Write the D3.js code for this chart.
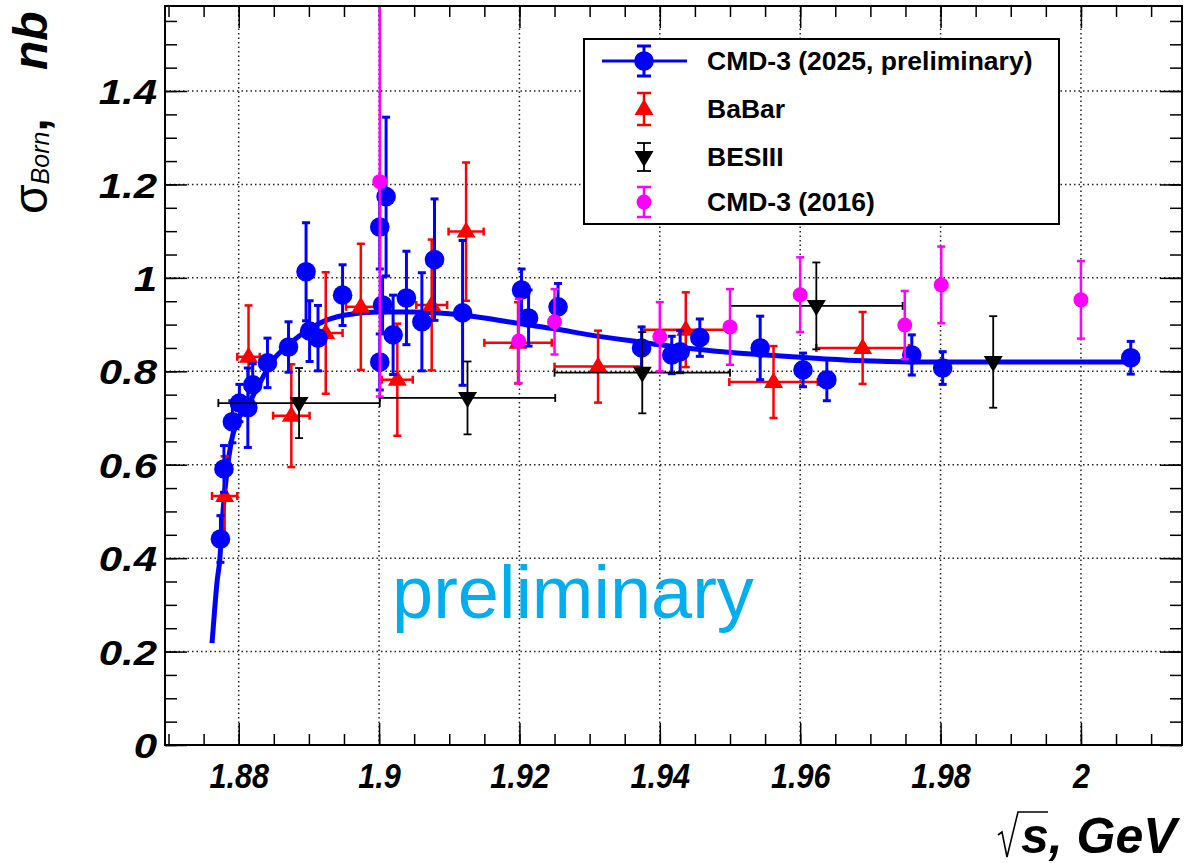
<!DOCTYPE html>
<html>
<head>
<meta charset="utf-8">
<script src="https://cdn.jsdelivr.net/npm/d3@7"></script>
<style>
  body { margin: 0; background: #fff; }
  text { font-family: "Liberation Sans", Arial, sans-serif; }
</style>
</head>
<body>
<svg id="chart" width="1188" height="863"></svg>
<script>
// CMD-3 (2025, preliminary)
const cmd25X = [1.8774, 1.8779, 1.8791, 1.8801, 1.8813, 1.8820, 1.8841, 1.8871, 1.8896, 1.8901, 1.8913,
  1.8948, 1.9001, 1.9001, 1.9010, 1.9005, 1.9020, 1.9039, 1.9061, 1.9079, 1.9119, 1.9203, 1.9213,
  1.9255, 1.9374, 1.9417, 1.9429, 1.9457, 1.9543, 1.9604, 1.9638, 1.9759, 1.9803, 2.0071];
const cmd25Y = [0.441, 0.591, 0.692, 0.732, 0.722, 0.771, 0.818, 0.852, 1.013, 0.886, 0.871,
  0.963, 0.820, 1.109, 1.174, 0.942, 0.878, 0.957, 0.906, 1.039, 0.925, 0.974, 0.914,
  0.938, 0.850, 0.835, 0.842, 0.872, 0.850, 0.803, 0.782, 0.835, 0.807, 0.829];
const cmd25Err = [0.05, 0.05, 0.045, 0.04, 0.085, 0.045, 0.053, 0.054, 0.105, 0.065, 0.07,
  0.065, 0.06, 0.09, 0.17, 0.06, 0.085, 0.10, 0.105, 0.13, 0.155, 0.045, 0.06,
  0.05, 0.045, 0.04, 0.045, 0.04, 0.068, 0.036, 0.045, 0.043, 0.035, 0.035];

// fit curve through CMD-3 (2025)
const fitX = [1.8762, 1.8766, 1.8769, 1.8773, 1.8777, 1.8783, 1.8790, 1.8797, 1.8811, 1.8830, 1.8848,
  1.8872, 1.8890, 1.8914, 1.8950, 1.9000, 1.9050, 1.9100, 1.9150, 1.9200, 1.9250, 1.9300, 1.9370,
  1.9425, 1.9480, 1.9540, 1.9600, 1.9680, 1.9760, 1.9900, 2.0080];
const fitY = [0.218, 0.295, 0.347, 0.396, 0.488, 0.582, 0.653, 0.690, 0.722, 0.775, 0.822,
  0.858, 0.880, 0.902, 0.920, 0.927, 0.927, 0.923, 0.914, 0.902, 0.891, 0.878, 0.863,
  0.852, 0.843, 0.836, 0.830, 0.823, 0.820, 0.820, 0.820];

// BaBar
const babarX = [1.8780, 1.8814, 1.8875, 1.8924, 1.8974, 1.9026, 1.9075, 1.9124, 1.9198, 1.9312, 1.9437, 1.9562, 1.9689];
const babarY = [0.533, 0.831, 0.705, 0.882, 0.938, 0.782, 0.942, 1.099, 0.861, 0.810, 0.889, 0.777, 0.850];
const babarXErr = [0.0018, 0.0016, 0.0026, 0.0024, 0.0021, 0.0022, 0.0022, 0.0025, 0.0048, 0.0062, 0.0062, 0.0063, 0.0066];
const babarYErr = [0.085, 0.11, 0.11, 0.13, 0.135, 0.12, 0.14, 0.148, 0.087, 0.077, 0.08, 0.077, 0.077];

// BESIII
const besX = [1.8886, 1.9126, 1.9375, 1.9623, 1.9875];
const besY = [0.732, 0.743, 0.797, 0.940, 0.820];
const besXErr = [0.0115, 0.0125, 0.0125, 0.0123, 0];
const besYErr = [0.075, 0.078, 0.087, 0.093, 0.098];

// CMD-3 (2016)
const cmd16X = [1.9001, 1.9199, 1.9250, 1.9400, 1.9500, 1.9600, 1.9749, 1.9801, 2.0000];
const cmd16Y = [1.206, 0.865, 0.906, 0.874, 0.895, 0.964, 0.899, 0.985, 0.953];
const cmd16Err = [0.46, 0.09, 0.07, 0.074, 0.081, 0.08, 0.073, 0.082, 0.083];

const xMajor = [1.88, 1.90, 1.92, 1.94, 1.96, 1.98, 2.00];
const yMajor = [0, 0.2, 0.4, 0.6, 0.8, 1.0, 1.2, 1.4];

const legendLabels = ["CMD-3 (2025, preliminary)", "BaBar", "BESIII", "CMD-3 (2016)"];

const BLUE = "#0000ff", RED = "#ff0000", MAGENTA = "#ff00ff", BLACK = "#000000";
const LEFT = 165, RIGHT = 1182, TOP = 6, BOTTOM = 745;

const svg = d3.select("#chart");
const x = d3.scaleLinear().domain([1.8695, 2.0144]).range([LEFT, RIGHT]);
const y = d3.scaleLinear().domain([0, 1.582]).range([BOTTOM, TOP]);

const range = (a, b, step) => d3.range(Math.round(a / step), Math.round(b / step) + 1).map(i => +(i * step).toFixed(4));
const xMinor = range(1.870, 2.010, 0.005).filter(v => v >= 1.8695 && v <= 2.0144);
const yMinor = range(0, 1.55, 0.05);

svg.append("defs").append("clipPath").attr("id", "plot-clip")
  .append("rect").attr("x", LEFT).attr("y", TOP).attr("width", RIGHT - LEFT).attr("height", BOTTOM - TOP);

// grid
const grid = svg.append("g").attr("stroke", "#222").attr("stroke-width", 1.5).attr("stroke-dasharray", "1.5,3");
grid.selectAll(".gx").data(xMajor).enter().append("line")
  .attr("x1", d => x(d)).attr("x2", d => x(d)).attr("y1", TOP).attr("y2", BOTTOM);
grid.selectAll(".gy").data(yMajor.filter(d => d > 0)).enter().append("line")
  .attr("y1", d => y(d)).attr("y2", d => y(d)).attr("x1", LEFT).attr("x2", RIGHT);

// axes: ticks point inward like ROOT
const fmt = d => String(+d.toFixed(2));
const axisStyle = g => {
  g.select(".domain").remove();
  g.selectAll(".tick line").attr("stroke", "#000").attr("stroke-width", 1.5);
};
svg.append("g").attr("transform", `translate(0,${BOTTOM})`)
  .call(d3.axisBottom(x).tickValues(xMinor).tickSize(-11).tickFormat("")).call(axisStyle);
svg.append("g").attr("transform", `translate(0,${BOTTOM})`)
  .call(d3.axisBottom(x).tickValues(xMajor).tickSize(-22).tickPadding(0).tickFormat(fmt)).call(axisStyle)
  .selectAll("text")
  .attr("y", 0).attr("dy", null)
  .attr("transform", "translate(0,43) scale(0.85,1)")
  .attr("font-size", 36).attr("font-weight", "bold").attr("font-style", "italic").attr("fill", "#000");
svg.append("g").attr("transform", `translate(0,${TOP})`)
  .call(d3.axisTop(x).tickValues(xMinor).tickSize(-11).tickFormat("")).call(axisStyle);
svg.append("g").attr("transform", `translate(0,${TOP})`)
  .call(d3.axisTop(x).tickValues(xMajor).tickSize(-22).tickFormat("")).call(axisStyle);
svg.append("g").attr("transform", `translate(${LEFT},0)`)
  .call(d3.axisLeft(y).tickValues(yMinor).tickSize(-12).tickFormat("")).call(axisStyle);
svg.append("g").attr("transform", `translate(${LEFT},0)`)
  .call(d3.axisLeft(y).tickValues(yMajor).tickSize(-22).tickFormat(fmt)).call(axisStyle)
  .selectAll("text")
  .attr("x", 0).attr("dy", "0.36em")
  .attr("transform", "translate(-8,0) scale(1.2,1)")
  .attr("font-size", 35).attr("font-weight", "bold").attr("font-style", "italic").attr("fill", "#000");
svg.append("g").attr("transform", `translate(${RIGHT},0)`)
  .call(d3.axisRight(y).tickValues(yMinor).tickSize(-12).tickFormat("")).call(axisStyle);
svg.append("g").attr("transform", `translate(${RIGHT},0)`)
  .call(d3.axisRight(y).tickValues(yMajor).tickSize(-22).tickFormat("")).call(axisStyle);

const plot = svg.append("g").attr("clip-path", "url(#plot-clip)");

// error bars with small caps
function errorBars(g, xs, ys, yErr, xErr, color, width, cap) {
  const data = xs.map((d, i) => ({ x: d, y: ys[i], ey: yErr[i], ex: xErr ? xErr[i] : 0 }));
  const eg = g.append("g").attr("stroke", color).attr("stroke-width", width).attr("fill", "none");
  data.forEach(d => {
    const cx = x(d.x), cy = y(d.y), y1 = y(d.y + d.ey), y2 = y(d.y - d.ey);
    eg.append("line").attr("x1", cx).attr("x2", cx).attr("y1", y1).attr("y2", y2);
    eg.append("line").attr("x1", cx - cap).attr("x2", cx + cap).attr("y1", y1).attr("y2", y1);
    eg.append("line").attr("x1", cx - cap).attr("x2", cx + cap).attr("y1", y2).attr("y2", y2);
    if (d.ex > 0) {
      const x1 = x(d.x - d.ex), x2 = x(d.x + d.ex);
      eg.append("line").attr("x1", x1).attr("x2", x2).attr("y1", cy).attr("y2", cy);
      eg.append("line").attr("x1", x1).attr("x2", x1).attr("y1", cy - cap).attr("y2", cy + cap);
      eg.append("line").attr("x1", x2).attr("x2", x2).attr("y1", cy - cap).attr("y2", cy + cap);
    }
  });
  return data;
}
const triUp = "M0,-10L9.5,6L-9.5,6Z";
const triDown = "M0,10L9.5,-6L-9.5,-6Z";

// fit line
const fitData = fitX.map((d, i) => [d, fitY[i]]);
plot.append("path").datum(fitData)
  .attr("fill", "none").attr("stroke", BLUE).attr("stroke-width", 5)
  .attr("d", d3.line().x(d => x(d[0])).y(d => y(d[1])).curve(d3.curveMonotoneX));

// BaBar
const babar = errorBars(plot, babarX, babarY, babarYErr, babarXErr, RED, 2.5, 4);
plot.append("g").selectAll("path").data(babar).enter().append("path")
  .attr("d", triUp).attr("fill", RED).attr("transform", d => `translate(${x(d.x)},${y(d.y)})`);

// CMD-3 (2025)
const cmd25 = errorBars(plot, cmd25X, cmd25Y, cmd25Err, null, BLUE, 3, 4);
plot.append("g").selectAll("circle").data(cmd25).enter().append("circle")
  .attr("cx", d => x(d.x)).attr("cy", d => y(d.y)).attr("r", 9.8).attr("fill", BLUE);

// BESIII
const bes = errorBars(plot, besX, besY, besYErr, besXErr, BLACK, 1.8, 4);
plot.append("g").selectAll("path").data(bes).enter().append("path")
  .attr("d", triDown).attr("fill", BLACK).attr("transform", d => `translate(${x(d.x)},${y(d.y)})`);

// CMD-3 (2016)
const cmd16 = errorBars(plot, cmd16X, cmd16Y, cmd16Err, null, MAGENTA, 2.5, 4);
plot.append("g").selectAll("circle").data(cmd16).enter().append("circle")
  .attr("cx", d => x(d.x)).attr("cy", d => y(d.y)).attr("r", 7.5).attr("fill", MAGENTA);

// frame
svg.append("rect").attr("x", LEFT).attr("y", TOP).attr("width", RIGHT - LEFT).attr("height", BOTTOM - TOP)
  .attr("fill", "none").attr("stroke", "#000").attr("stroke-width", 2);

// watermark
svg.append("text").attr("x", 392).attr("y", 618).attr("font-size", 74).attr("fill", "#00aeef")
  .text("preliminary");

// legend
const lg = svg.append("g");
lg.append("rect").attr("x", 584).attr("y", 39).attr("width", 475).attr("height", 185)
  .attr("fill", "#fff").attr("stroke", "#000").attr("stroke-width", 2);
const rowY = [61, 109, 157, 202];
const mx = 644;
const legendStyle = [
  { color: BLUE, shape: "circle", r: 9.8, half: 15, w: 3 },
  { color: RED, shape: triUp, half: 16, w: 2.5 },
  { color: BLACK, shape: triDown, half: 14, w: 1.8 },
  { color: MAGENTA, shape: "circle", r: 7.5, half: 15, w: 2.5 }
];
legendStyle.forEach((s, i) => {
  const cy = rowY[i];
  const row = lg.append("g").attr("stroke", s.color).attr("stroke-width", s.w);
  if (i === 0) row.append("line").attr("x1", 602).attr("x2", 687).attr("y1", cy).attr("y2", cy);
  row.append("line").attr("x1", mx).attr("x2", mx).attr("y1", cy - s.half).attr("y2", cy + s.half);
  row.append("line").attr("x1", mx - 7).attr("x2", mx + 7).attr("y1", cy - s.half).attr("y2", cy - s.half);
  row.append("line").attr("x1", mx - 7).attr("x2", mx + 7).attr("y1", cy + s.half).attr("y2", cy + s.half);
  if (s.shape === "circle") {
    lg.append("circle").attr("cx", mx).attr("cy", cy).attr("r", s.r).attr("fill", s.color);
  } else {
    lg.append("path").attr("d", s.shape).attr("fill", s.color).attr("transform", `translate(${mx},${cy})`);
  }
  lg.append("text").attr("x", 707).attr("y", cy + 9).attr("font-size", 26.5).attr("font-weight", "bold")
    .text(legendLabels[i]);
});

// y title
const yt = svg.append("text").attr("transform", "translate(47,214) rotate(-90)").attr("font-size", 48);
yt.append("tspan").text("σ");
yt.append("tspan").attr("font-size", 25).attr("font-style", "italic").attr("dy", 2).text("Born");
yt.append("tspan").attr("font-weight", "bold").attr("dy", -2).text(",");
yt.append("tspan").attr("x", 144).attr("font-weight", "bold").attr("font-style", "italic").text("nb");

// x title with radical sign
svg.append("path").attr("d", "M998,835L1002,832L1007,857L1018,812L1048,812")
  .attr("fill", "none").attr("stroke", "#000").attr("stroke-width", 1.6);
svg.append("text").attr("x", 1021).attr("y", 853).attr("font-size", 50)
  .attr("font-weight", "bold").attr("font-style", "italic").text("s, GeV");
</script>
</body>
</html>
